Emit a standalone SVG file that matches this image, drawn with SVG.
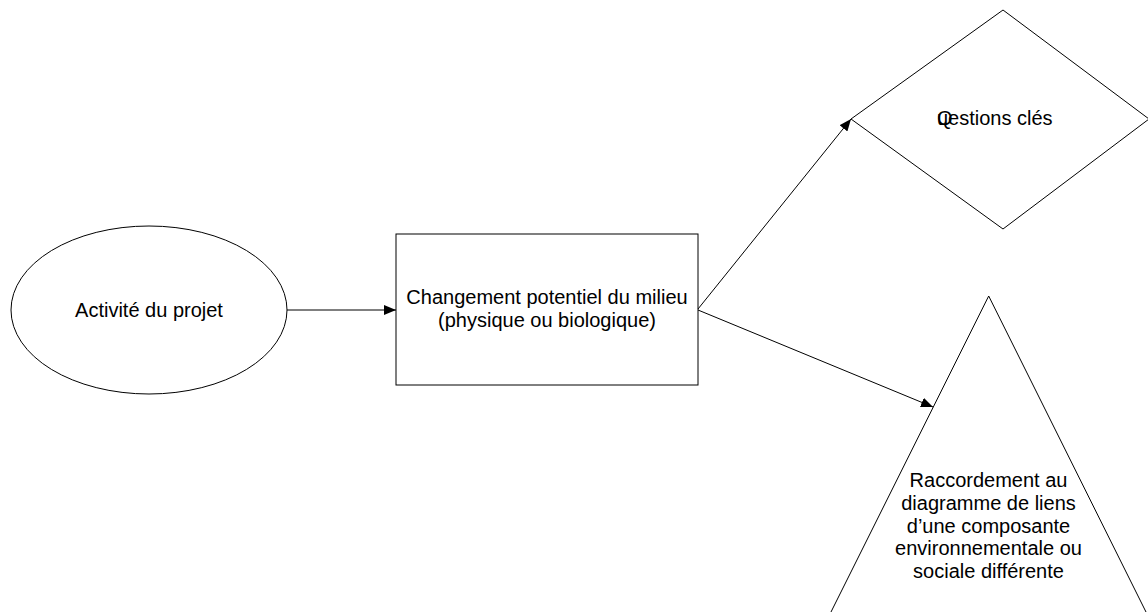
<svg xmlns="http://www.w3.org/2000/svg" width="1148" height="612" viewBox="0 0 1148 612">
<style>
.shape{fill:#fff;stroke:#000;stroke-width:1}
.conn{fill:none;stroke:#000;stroke-width:1}
.lbl{font-family:"Liberation Sans",Arial,sans-serif;font-size:20px;fill:#000;text-anchor:middle}
.lbl-l{font-family:"Liberation Sans",Arial,sans-serif;font-size:20px;fill:#000}
</style>
<defs>
<marker id="arr" viewBox="0 0 12 10" refX="12" refY="5" markerWidth="12" markerHeight="10" markerUnits="userSpaceOnUse" orient="auto">
<path d="M0,0 L12,5 L0,10 Z" fill="#000"/>
</marker>
</defs>
<rect width="1148" height="612" fill="#fff"/>
<g id="n-activite">
<ellipse class="shape" cx="149" cy="310" rx="138" ry="84"/>
<text class="lbl" x="149" y="317">Activité du projet</text>
</g>
<g id="n-changement">
<rect class="shape" x="396" y="234" width="302" height="151"/>
<text class="lbl" x="547" y="304">Changement potentiel du milieu</text>
<text class="lbl" x="547" y="327">(physique ou biologique)</text>
</g>
<g id="n-questions">
<polygon class="shape" points="1003,10 1149,119 1003,229 851,119"/>
<text class="lbl-l" x="937 937" y="125">Questions clés</text>
</g>
<g id="n-raccordement">
<polygon class="shape" points="988.7,296 1150,620 827,620"/>
<text class="lbl" x="988.5" y="487">Raccordement au</text>
<text class="lbl" x="988.5" y="510">diagramme de liens</text>
<text class="lbl" x="988.5" y="533">d’une composante</text>
<text class="lbl" x="988.5" y="555">environnementale ou</text>
<text class="lbl" x="988.5" y="578">sociale différente</text>
</g>
<g id="connectors">
<line class="conn" x1="287" y1="310" x2="396" y2="310" marker-end="url(#arr)"/>
<line class="conn" x1="698" y1="309" x2="851" y2="119" marker-end="url(#arr)"/>
<line class="conn" x1="698" y1="310" x2="933" y2="407" marker-end="url(#arr)"/>
</g>
</svg>
